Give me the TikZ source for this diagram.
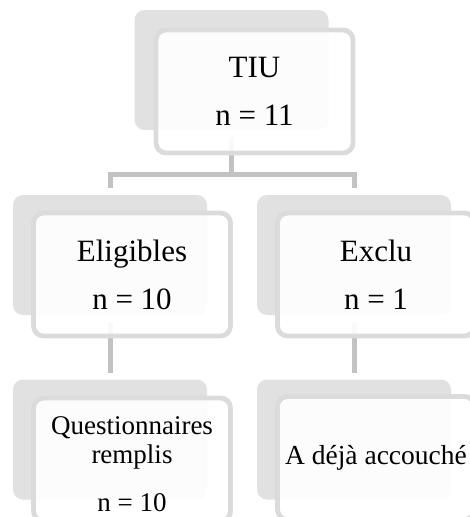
\documentclass[tikz,border=0pt]{standalone}
\usepackage{fontspec}
\setmainfont{Liberation Serif}

\definecolor{backgray}{RGB}{225,225,225}
\definecolor{framegray}{RGB}{219,219,219}
\definecolor{linegray}{RGB}{194,194,194}

\tikzset{
	backbox/.style={rectangle, rounded corners=10pt, fill=backgray,
		minimum width=194pt, minimum height=120pt, inner sep=0pt},
	frontbox/.style={rectangle, rounded corners=10pt, draw=framegray, line width=4.8pt,
		fill=white, fill opacity=0.9, text opacity=1,
		minimum width=197pt, minimum height=123pt, inner sep=0pt, align=center},
	conn/.style={draw=linegray, line width=5pt},
}

\begin{document}
\begin{tikzpicture}[x=1pt, y=-1pt, font=\fontsize{31}{48}\selectfont]

	\useasboundingbox (0,0) rectangle (470,517);

	%% back boxes
	\node[backbox] (tiu-b)   at (231.5,70)  {};
	\node[backbox] (elig-b)  at (110,255)   {};
	\node[backbox] (excl-b)  at (354,255)   {};
	\node[backbox] (quest-b) at (110,439.5) {};
	\node[backbox] (accou-b) at (354,439.5) {};

	%% connectors
	\coordinate (split) at (231.5,174);
	\draw[conn, shorten <=7pt] (tiu-b.south) -- (split);
	\draw[conn, shorten >=7pt] (split) -| (elig-b.north);
	\draw[conn, shorten >=7pt] (split) -| (excl-b.north);
	\draw[conn, shorten <=8pt, shorten >=6pt] (elig-b.south) -- (quest-b.north);
	\draw[conn, shorten <=8pt, shorten >=6pt] (excl-b.south) -- (accou-b.north);

	%% front boxes
	\node[frontbox] (tiu)   at (254.5,91.5) {TIU\\n = 11};
	\node[frontbox] (elig)  at (132,274.5)  {Eligibles\\n = 10};
	\node[frontbox] (excl)  at (376,274.5)  {Exclu\\n = 1};
	\node[frontbox] (quest) at (132,459.5)  {};
	\node[align=center, font=\fontsize{27}{29}\selectfont] (quest-t) at (132,464)
		{Questionnaires\\remplis\\[19pt]n = 10};
	\node[frontbox, font=\fontsize{27.5}{29}\selectfont] (accou) at (376,458)
		{A déjà accouché};

\end{tikzpicture}
\end{document}
